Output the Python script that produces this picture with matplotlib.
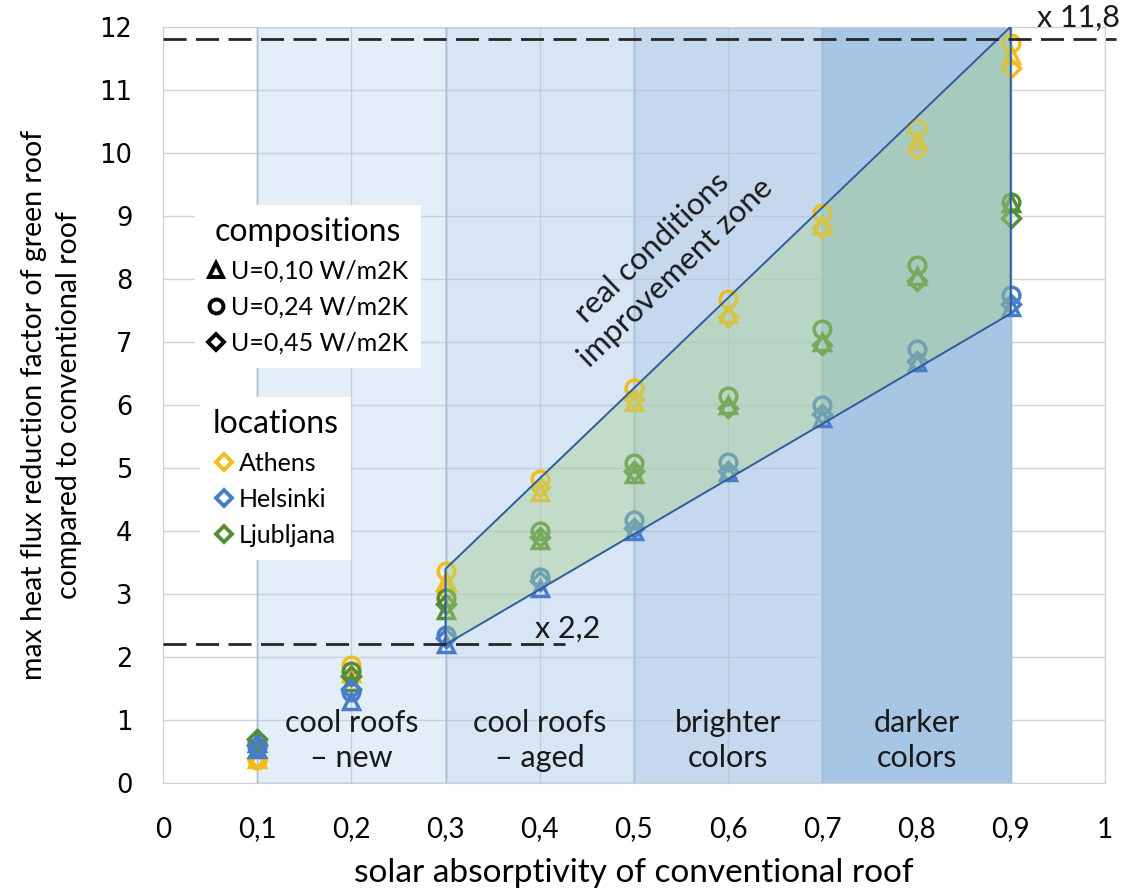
import matplotlib
matplotlib.use("Agg")
import matplotlib.pyplot as plt
from matplotlib.lines import Line2D

plt.rcParams['font.family'] = ['Lato', 'DejaVu Sans']

# solar absorptivity of the conventional roof
absorptivity = [0.1, 0.2, 0.3, 0.4, 0.5, 0.6, 0.7, 0.8, 0.9]

# max heat flux reduction factor, per location and composition
athens_u010 = [0.38, 1.75, 3.20, 4.62, 6.05, 7.45, 8.85, 10.20, 11.55]
athens_u024 = [0.37, 1.87, 3.37, 4.83, 6.27, 7.68, 9.05, 10.40, 11.75]
athens_u045 = [0.40, 1.70, 3.05, 4.70, 6.10, 7.40, 8.80, 10.05, 11.35]
helsinki_u010 = [0.55, 1.30, 2.20, 3.10, 4.00, 4.93, 5.80, 6.68, 7.55]
helsinki_u024 = [0.57, 1.45, 2.35, 3.27, 4.18, 5.10, 6.00, 6.88, 7.75]
helsinki_u045 = [0.60, 1.50, 2.30, 3.20, 4.05, 4.95, 5.85, 6.70, 7.60]
ljubljana_u010 = [0.63, 1.60, 2.75, 3.85, 4.90, 6.00, 7.00, 8.05, 9.20]
ljubljana_u024 = [0.65, 1.78, 2.93, 4.00, 5.08, 6.15, 7.20, 8.22, 9.22]
ljubljana_u045 = [0.70, 1.70, 2.85, 3.90, 4.95, 5.95, 6.95, 7.97, 8.97]

# improvement zone outline
zone_x = [0.3, 0.9]
zone_low = [2.2, 7.45]
zone_high = [3.4, 12.0]

# reference levels
ref_low = 2.2
ref_high = 11.8

# roof categories
band_edges = [0.1, 0.3, 0.5, 0.7, 0.9]
band_labels = ['cool roofs\n\u2013 new', 'cool roofs\n\u2013 aged', 'brighter\ncolors', 'darker\ncolors']
band_colors = ['#E4EEF8', '#D7E5F4', '#C5D8EE', '#A7C5E4']

xtick_vals = [0, 0.1, 0.2, 0.3, 0.4, 0.5, 0.6, 0.7, 0.8, 0.9, 1.0]
xtick_labels = ['0', '0,1', '0,2', '0,3', '0,4', '0,5', '0,6', '0,7', '0,8', '0,9', '1']

c_athens = '#F2BC1B'
c_helsinki = '#4A7DC9'
c_ljubljana = '#548E3A'

fig = plt.figure(figsize=(11.24, 8.92), dpi=100)
ax = fig.add_axes([0.145, 0.122, 0.838, 0.848])
ax.set_xlim(0, 1)
ax.set_ylim(0, 12)

# category bands
for i in range(len(band_labels)):
    ax.axvspan(band_edges[i], band_edges[i + 1], facecolor=band_colors[i],
               edgecolor='#8FAFD3', linewidth=1.0, zorder=0.2)
    ax.text((band_edges[i] + band_edges[i + 1]) / 2, 0.67, band_labels[i],
            ha='center', va='center', fontsize=22, color='#1A1A1A',
            linespacing=1.3, zorder=6)

ax.set_axisbelow(True)
ax.set_xticks(xtick_vals)
ax.set_yticks(range(0, 13))
ax.grid(True, color='#B8C4D0', linewidth=1.0, alpha=0.7)
for s in ax.spines.values():
    s.set_color('#D0D0D0')
ax.tick_params(length=0)
ax.set_xticklabels(xtick_labels, fontsize=20)
ax.tick_params(axis='x', pad=24)
ax.tick_params(axis='y', pad=22)
for lab in ax.get_yticklabels():
    lab.set_fontfamily('DejaVu Sans')
    lab.set_fontsize(18.5)

# data markers
mk = dict(linestyle='none', markerfacecolor='none', markeredgewidth=2.5, zorder=3)
series = [
    (athens_u010, '^', c_athens), (athens_u045, 'D', c_athens), (athens_u024, 'o', c_athens),
    (ljubljana_u010, '^', c_ljubljana), (ljubljana_u045, 'D', c_ljubljana), (ljubljana_u024, 'o', c_ljubljana),
    (helsinki_u045, 'D', c_helsinki), (helsinki_u024, 'o', c_helsinki), (helsinki_u010, '^', c_helsinki),
]
for vals, m, c in series:
    ms = 9 if m == 'D' else 12
    ax.plot(absorptivity, vals, marker=m, color=c, markersize=ms, **mk)

# improvement zone
ax.fill_between(zone_x, zone_low, zone_high, facecolor='#A9D18E', alpha=0.42,
                edgecolor='none', zorder=4)
ax.fill_between(zone_x, zone_low, zone_high, facecolor='none',
                edgecolor='#2F5C9E', linewidth=1.4, zorder=5)
ax.text(0.532, 8.3, 'real conditions\nimprovement zone', rotation=44,
        ha='center', va='center', fontsize=22.5, color='#1A1A1A',
        linespacing=1.25, rotation_mode='anchor', zorder=6)

# reference dashed lines
ax.plot([0, 0.427], [ref_low, ref_low], color='#262626', linewidth=2,
        dashes=(8.3, 3.4), zorder=5, clip_on=False)
ax.plot([0, 1.012], [ref_high, ref_high], color='#262626', linewidth=2,
        dashes=(8.3, 3.4), zorder=5, clip_on=False)
ax.text(0.395, 2.45, 'x 2,2', fontsize=22, color='#1A1A1A', ha='left', va='center', zorder=6)
ax.text(0.928, 12.15, 'x 11,8', fontsize=22, color='#1A1A1A', ha='left', va='center',
        zorder=6, clip_on=False)

# legends
leg_style = dict(loc='upper left', fontsize=18, title_fontsize=23, frameon=True, fancybox=False,
                 framealpha=1, edgecolor='none', handlelength=0.7, handletextpad=0.25,
                 labelspacing=0.52, borderpad=0.5, borderaxespad=0)
comp_handles = [Line2D([], [], linestyle='none', marker=m, color='black', markerfacecolor='none',
                       markersize=s, markeredgewidth=2.8) for m, s in [('^', 10), ('o', 10), ('D', 8)]]
leg1 = ax.legend(comp_handles, ['U=0,10 W/m2K', 'U=0,24 W/m2K', 'U=0,45 W/m2K'],
                 title='compositions', bbox_to_anchor=(0.034, 0.765), **leg_style)
ax.add_artist(leg1)
leg1.set_zorder(7)
loc_handles = [Line2D([], [], linestyle='none', marker='D', color=c, markerfacecolor='none',
                      markersize=8, markeredgewidth=2.8) for c in [c_athens, c_helsinki, c_ljubljana]]
leg2 = ax.legend(loc_handles, ['Athens', 'Helsinki', 'Ljubljana'],
                 title='locations', bbox_to_anchor=(0.039, 0.511), **leg_style)
leg2.set_zorder(7)

ax.set_xlabel('solar absorptivity of conventional roof', fontsize=24, labelpad=11)
fig.text(0.046, 0.546, 'max heat flux reduction factor of green roof\ncompared to conventional roof',
         rotation=90, ha='center', va='center', fontsize=20.5, linespacing=1.45)

fig.savefig('out.png', dpi=100)
